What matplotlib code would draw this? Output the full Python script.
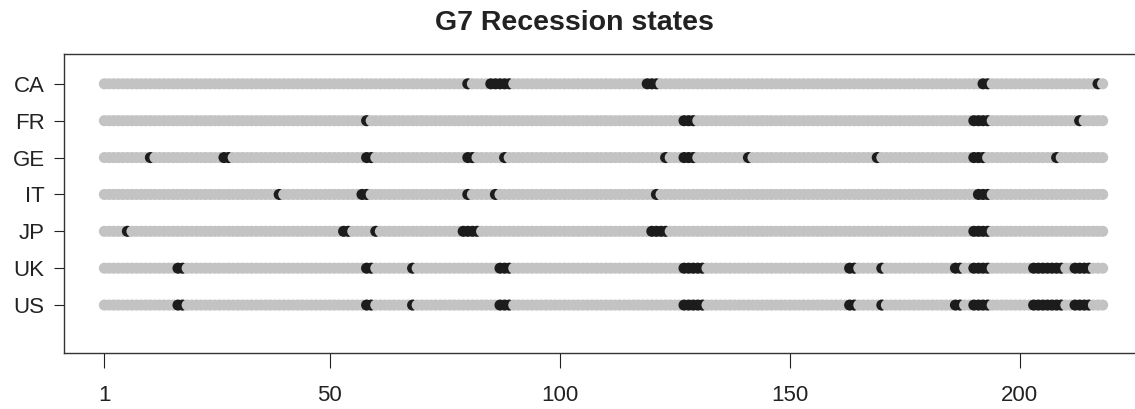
import numpy as np
import matplotlib
matplotlib.use("Agg")
import matplotlib.pyplot as plt

n_obs = 218
countries = ["CA", "FR", "GE", "IT", "JP", "UK", "US"]
recessions = {
    "CA": [80, 85, 86, 87, 88, 89, 119, 120, 121, 192, 193, 217],
    "FR": [58, 127, 128, 129, 190, 191, 192, 193, 213],
    "GE": [11, 27, 28, 58, 59, 80, 81, 88, 123, 127, 128, 129, 141, 169,
           190, 191, 192, 208],
    "IT": [39, 57, 58, 80, 86, 121, 191, 192, 193],
    "JP": [6, 53, 54, 60, 79, 80, 81, 82, 120, 121, 122, 123,
           190, 191, 192, 193],
    "UK": [17, 18, 58, 59, 68, 87, 88, 89, 127, 128, 129, 130, 131, 163, 164,
           170, 186, 187, 190, 191, 192, 193, 203, 204, 205, 206, 207, 208, 209,
           212, 213, 214, 215],
    "US": [17, 18, 58, 59, 68, 87, 88, 89, 127, 128, 129, 130, 131, 163, 164,
           170, 186, 187, 190, 191, 192, 193, 203, 204, 205, 206, 207, 208, 209,
           212, 213, 214, 215],
}
xticks = [1, 50, 100, 150, 200]

plt.rcParams["font.family"] = ["Liberation Sans", "DejaVu Sans"]

fig = plt.figure(figsize=(11.35, 4.09), dpi=100)
ax = fig.add_axes([0.0568, 0.1369, 0.9499, 0.7303])

t = np.arange(1, n_obs + 1)
gray = "#c3c3c3"
black = "#1c1c1c"
for k, c in enumerate(countries):
    y = len(countries) - k
    state = np.isin(t, recessions[c])
    cols = np.where(state, black, gray)
    # draw in time order so each later dot sits on top of the one before
    ax.scatter(t, np.full(n_obs, y), c=cols, s=64, linewidths=0, zorder=2)

pad = 0.04 * (n_obs - 1)
ax.set_xlim(1 - pad, n_obs + pad)
ax.set_ylim(-0.3, 7.8)

ax.set_xticks(xticks)
ax.set_xticklabels([str(v) for v in xticks])
ax.set_yticks(range(len(countries), 0, -1))
ax.set_yticklabels(countries)

ax.tick_params(axis="x", length=10.8, width=0.8, pad=12, labelsize=16, colors="#222222")
ax.tick_params(axis="y", length=7.2, width=0.8, pad=7, labelsize=16, colors="#222222")
for s in ax.spines.values():
    s.set_linewidth(1.0)
    s.set_color("#333333")

fig.text(574 / 1135, 1 - 23 / 409, "G7 Recession states", ha="center", va="center",
         fontsize=20.5, fontweight="bold", color="#222222")

fig.savefig("out.png", dpi=100)
